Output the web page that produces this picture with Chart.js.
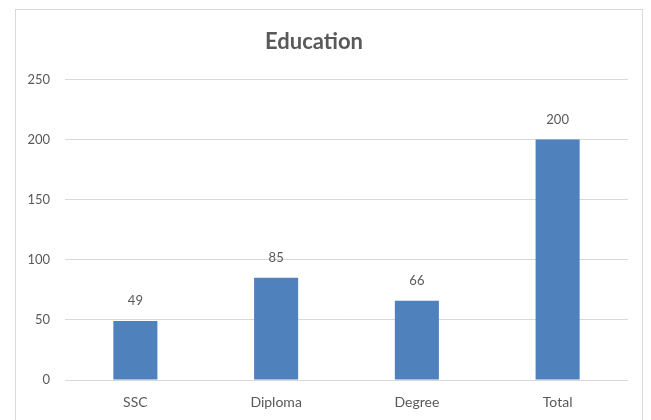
<!DOCTYPE html>
<html>
<head>
<meta charset="utf-8">
<script src="https://cdn.jsdelivr.net/npm/chart.js@4"></script>
<style>
  html, body { margin: 0; padding: 0; background: #fff; }
  #wrap { width: 651px; height: 420px; position: relative; }
</style>
</head>
<body>
<div id="wrap"><canvas id="chart" width="651" height="420"></canvas></div>
<script>
const categories = ["SSC", "Diploma", "Degree", "Total"];
const counts = [49, 85, 66, 200];
const yTicks = [0, 50, 100, 150, 200, 250];

const textGray = "#595959";
const fontFamily = "Lato, 'Open Sans', sans-serif";

// outer frame like the spreadsheet chart box
const framePlugin = {
  id: "frame",
  beforeDraw(chart) {
    const ctx = chart.ctx;
    ctx.save();
    ctx.fillStyle = "#fff";
    ctx.fillRect(0, 0, chart.width, chart.height);
    ctx.strokeStyle = "#d9d9d9";
    ctx.lineWidth = 1;
    ctx.strokeRect(15.5, 9.5, 627, 420);
    ctx.restore();
  }
};

// value labels above the bars
const valueLabels = {
  id: "valueLabels",
  afterDatasetsDraw(chart) {
    const ctx = chart.ctx;
    const meta = chart.getDatasetMeta(0);
    ctx.save();
    ctx.fillStyle = textGray;
    ctx.font = "13px " + fontFamily;
    ctx.textAlign = "center";
    ctx.textBaseline = "middle";
    meta.data.forEach((bar, i) => {
      ctx.fillText(String(chart.data.datasets[0].data[i]), bar.x, bar.y - 20);
    });
    ctx.restore();
  }
};

new Chart(document.getElementById("chart"), {
  type: "bar",
  data: {
    labels: categories,
    datasets: [{
      label: "Education",
      data: counts,
      backgroundColor: "#4f81bd",
      barPercentage: 1,
      categoryPercentage: 0.313
    }]
  },
  options: {
    responsive: false,
    animation: false,
    layout: { padding: { left: 0, right: 23, top: 0, bottom: 11 } },
    plugins: {
      legend: { display: false },
      tooltip: { enabled: false },
      title: {
        display: true,
        text: "Education",
        color: textGray,
        font: { family: fontFamily, size: 22, weight: "bold" },
        padding: { top: 29, bottom: 24 }
      }
    },
    scales: {
      x: {
        afterFit(scale) { scale.height = 29; },
        grid: { display: false, drawTicks: false },
        border: { display: false },
        ticks: { color: textGray, font: { family: fontFamily, size: 14 }, padding: 14 }
      },
      y: {
        min: 0,
        max: 250,
        afterBuildTicks(scale) {
          scale.ticks = yTicks.map(v => ({ value: v }));
        },
        afterFit(scale) { scale.width = 65; },
        grid: { color: "#d9d9d9", drawTicks: false },
        border: { display: false },
        ticks: { color: textGray, font: { family: fontFamily, size: 13 }, padding: 15 }
      }
    }
  },
  plugins: [framePlugin, valueLabels]
});
</script>
</body>
</html>
